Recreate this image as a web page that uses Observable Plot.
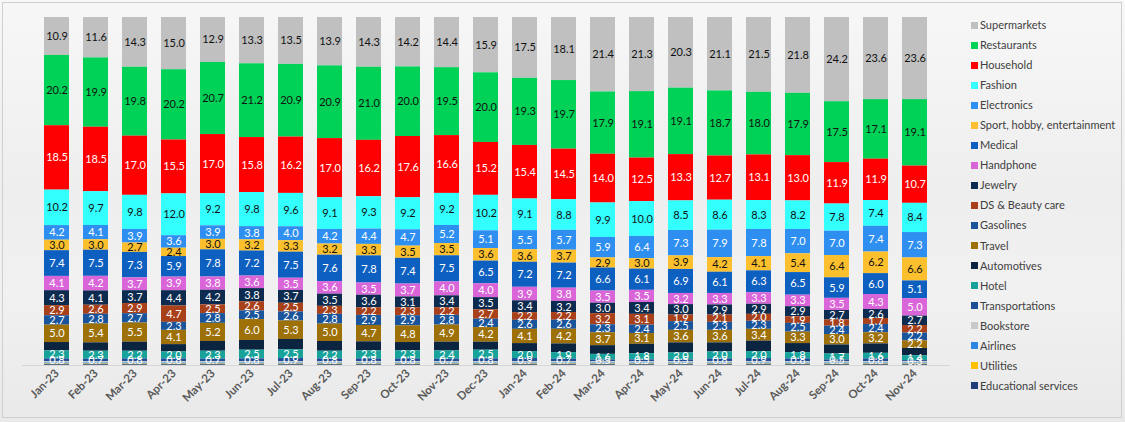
<!DOCTYPE html>
<html>
<head>
<meta charset="utf-8">
<script src="https://cdn.jsdelivr.net/npm/d3@7"></script>
<script src="https://cdn.jsdelivr.net/npm/@observablehq/plot@0.6"></script>
<style>
  html, body { margin: 0; padding: 0; background: #ffffff; }
  #wrap {
    position: relative; width: 1125px; height: 422px; box-sizing: border-box;
    background: linear-gradient(180deg, #f7f7f7 0%, #eeeeee 45%, #f1f1f1 70%, #e9e9e9 100%);
    font-family: Lato, "Open Sans", sans-serif; overflow: hidden;
  }
  #frame { position: absolute; left: 2px; top: 2px; width: 1120px; height: 416px; border: 1px solid #cfcfcf; box-sizing: border-box; pointer-events: none; }
  #chart { position: absolute; left: 0; top: 0; }
  #legend { position: absolute; left: 971px; top: 15px; }
  .item { height: 20.06px; line-height: 20px; font-size: 11px; color: #404040; white-space: nowrap; display: flex; align-items: center; }
  .sw { width: 7px; height: 7px; margin-right: 2px; display: inline-block; }
</style>
</head>
<body>
<div id="wrap"><div id="chart"></div><div id="legend"></div><div id="frame"></div></div>
<script>
const months = ["Jan-23","Feb-23","Mar-23","Apr-23","May-23","Jun-23","Jul-23","Aug-23","Sep-23","Oct-23","Nov-23","Dec-23",
  "Jan-24","Feb-24","Mar-24","Apr-24","May-24","Jun-24","Jul-24","Aug-24","Sep-24","Oct-24","Nov-24"];

// Legend order (top of stack first)
const categories = ["Supermarkets","Restaurants","Household","Fashion","Electronics","Sport, hobby, entertainment","Medical",
  "Handphone","Jewelry","DS & Beauty care","Gasolines","Travel","Automotives","Hotel","Transportations","Bookstore",
  "Airlines","Utilities","Educational services"];

const supermarkets = [10.9,11.6,14.3,15.0,12.9,13.3,13.5,13.9,14.3,14.2,14.4,15.9,17.5,18.1,21.4,21.3,20.3,21.1,21.5,21.8,24.2,23.6,23.6];
const restaurants  = [20.2,19.9,19.8,20.2,20.7,21.2,20.9,20.9,21.0,20.0,19.5,20.0,19.3,19.7,17.9,19.1,19.1,18.7,18.0,17.9,17.5,17.1,19.1];
const household    = [18.5,18.5,17.0,15.5,17.0,15.8,16.2,17.0,16.2,17.6,16.6,15.2,15.4,14.5,14.0,12.5,13.3,12.7,13.1,13.0,11.9,11.9,10.7];
const fashion      = [10.2,9.7,9.8,12.0,9.2,9.8,9.6,9.1,9.3,9.2,9.2,10.2,9.1,8.8,9.9,10.0,8.5,8.6,8.3,8.2,7.8,7.4,8.4];
const electronics  = [4.2,4.1,3.9,3.6,3.9,3.8,4.0,4.2,4.4,4.7,5.2,5.1,5.5,5.7,5.9,6.4,7.3,7.9,7.8,7.0,7.0,7.4,7.3];
const sport        = [3.0,3.0,2.7,2.4,3.0,3.2,3.3,3.2,3.3,3.5,3.5,3.6,3.6,3.7,2.9,3.0,3.9,4.2,4.1,5.4,6.4,6.2,6.6];
const medical      = [7.4,7.5,7.3,5.9,7.8,7.2,7.5,7.6,7.8,7.4,7.5,6.5,7.2,7.2,6.6,6.1,6.9,6.1,6.3,6.5,5.9,6.0,5.1];
const handphone    = [4.1,4.2,3.7,3.9,3.8,3.6,3.5,3.6,3.5,3.7,4.0,4.0,3.9,3.8,3.5,3.5,3.2,3.3,3.3,3.3,3.5,4.3,5.0];
const jewelry      = [4.3,4.1,3.7,4.4,4.2,3.8,3.7,3.5,3.6,3.1,3.4,3.5,3.4,3.2,3.0,3.4,3.0,2.9,2.9,2.9,2.7,2.6,2.7];
const beauty       = [2.9,2.6,2.9,4.7,2.5,2.6,2.5,2.3,2.2,2.3,2.2,2.7,2.2,2.2,3.2,3.1,1.9,2.1,2.0,1.9,1.8,1.7,2.2];
const gasolines    = [2.7,2.8,2.7,2.3,2.8,2.5,2.6,2.8,2.9,2.9,2.8,2.4,2.6,2.6,2.3,2.4,2.5,2.3,2.3,2.5,2.4,2.4,2.2];
const travel       = [5.0,5.4,5.5,4.1,5.2,6.0,5.3,5.0,4.7,4.8,4.9,4.2,4.1,4.2,3.7,3.1,3.6,3.6,3.4,3.3,3.0,3.2,2.2];
const automotives  = [2.4,2.4,2.6,2.1,2.8,2.8,3.0,2.8,2.6,2.4,2.5,2.3,2.3,2.5,2.5,2.7,2.9,2.6,3.0,2.6,2.6,2.7,2.1];
const hotel        = [2.3,2.3,2.2,2.0,2.3,2.5,2.5,2.2,2.3,2.3,2.4,2.5,2.0,1.9,1.6,1.8,2.0,2.0,2.0,1.8,1.7,1.6,1.4];
const transport    = [0.8,0.7,0.8,0.8,0.7,0.8,0.9,0.8,0.8,0.8,0.7,0.8,0.9,0.7,0.5,0.5,0.5,0.8,0.9,0.8,0.5,0.8,0.3];
const bookstore    = [0.4,0.4,0.4,0.4,0.4,0.4,0.4,0.4,0.4,0.4,0.4,0.4,0.4,0.4,0.4,0.4,0.4,0.4,0.4,0.4,0.4,0.4,0.4];
const airlines     = [0.3,0.3,0.3,0.3,0.3,0.3,0.3,0.3,0.3,0.3,0.3,0.3,0.3,0.3,0.3,0.3,0.3,0.3,0.3,0.3,0.3,0.3,0.3];
const utilities    = [0.2,0.2,0.2,0.2,0.2,0.2,0.2,0.2,0.2,0.2,0.2,0.2,0.2,0.2,0.2,0.2,0.2,0.2,0.2,0.2,0.2,0.2,0.2];
const educational  = [0.2,0.2,0.2,0.2,0.2,0.2,0.2,0.2,0.2,0.2,0.2,0.2,0.2,0.2,0.2,0.2,0.2,0.2,0.2,0.2,0.2,0.2,0.2];

const series = [supermarkets,restaurants,household,fashion,electronics,sport,medical,handphone,jewelry,beauty,
  gasolines,travel,automotives,hotel,transport,bookstore,airlines,utilities,educational];

const colors = ["#c0c0c0","#00d157","#ff0000","#33ffff","#2e8ff0","#fcc02e","#0d5fc0","#d965d9","#0d2b4f","#a8401a",
  "#1a559c","#9d7008","#0b2440","#17a39a","#1f4e98","#c8c8c8","#2a86e0","#ffc000","#1f3d78"];
const darkText = new Set(["Supermarkets","Restaurants","Fashion","Sport, hobby, entertainment"]);
const unlabeled = new Set(["Automotives","Bookstore","Airlines","Utilities","Educational services"]);

const rows = [];
categories.forEach((c, ci) => months.forEach((m, mi) => rows.push({
  month: m, cat: c, value: series[ci][mi], color: colors[ci],
  tcolor: darkText.has(c) ? "#111111" : "#ffffff",
  label: unlabeled.has(c) ? "" : series[ci][mi].toFixed(1)
})));
const stackOrder = categories.slice().reverse();

const chart = Plot.plot({
  width: 960, height: 422,
  marginTop: 17, marginBottom: 57, marginLeft: 22, marginRight: 10,
  style: { background: "transparent", fontFamily: "Lato, 'Open Sans', sans-serif" },
  x: { domain: months, padding: 0.355, label: null, tickSize: 0, tickRotate: -45, tickPadding: 6 },
  y: { axis: null, label: null },
  color: { type: "identity" },
  marks: [
    Plot.ruleY([0], { stroke: "#d6d6d6", strokeWidth: 1 }),
    Plot.barY(rows, Plot.stackY({ x: "month", y: "value", z: "cat", fill: "color", order: stackOrder, offset: "normalize" })),
    Plot.text(rows, Plot.stackY({ x: "month", y: "value", z: "cat", order: stackOrder, offset: "normalize",
      text: "label", fill: "tcolor", fontSize: 11 }))
  ]
});
chart.querySelectorAll("g[aria-label='x-axis tick label']").forEach(el => {
  el.setAttribute("font-weight", "bold"); el.setAttribute("font-size", "11.5"); el.setAttribute("fill", "#595959");
});
document.getElementById("chart").appendChild(chart);

const legend = document.getElementById("legend");
categories.forEach((c, i) => {
  const div = document.createElement("div");
  div.className = "item";
  div.innerHTML = `<span class="sw" style="background:${colors[i]}"></span><span></span>`;
  div.lastChild.textContent = c;
  legend.appendChild(div);
});
</script>
</body>
</html>
